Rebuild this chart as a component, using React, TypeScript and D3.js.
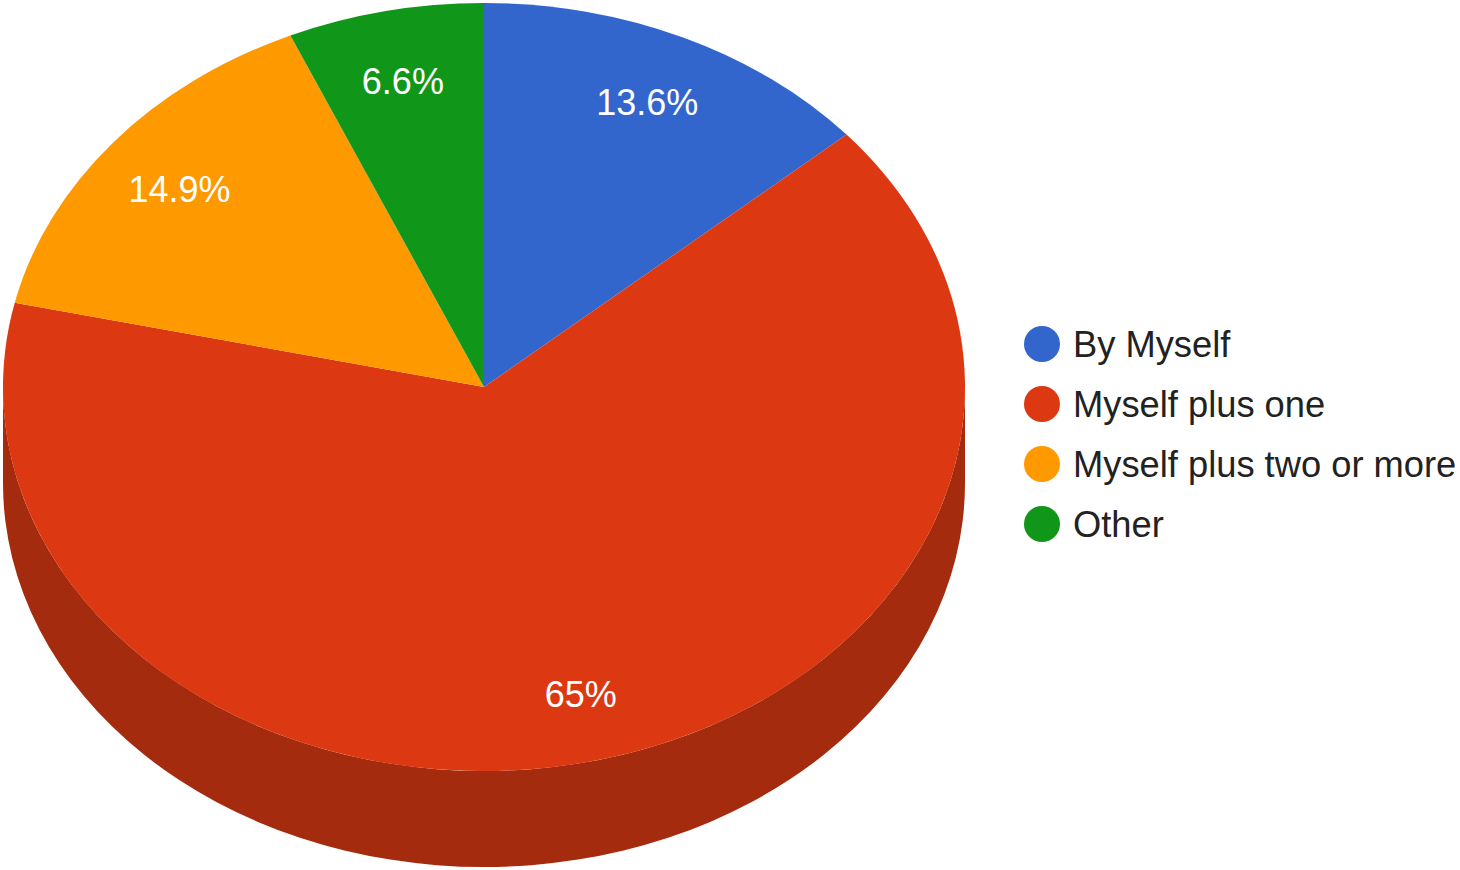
import React from "react";
import * as d3 from "d3";

const categories = ["By Myself", "Myself plus one", "Myself plus two or more", "Other"];
const values = [13.6, 65, 14.9, 6.6];
const labels = ["13.6%", "65%", "14.9%", "6.6%"];
const colors = ["#3366cc", "#dc3912", "#ff9900", "#109618"];
const sideColors = ["#264d99", "#a52b0e", "#bf7300", "#0c7112"];

const W = 1460;
const H = 870;
const cx = 484;
const cy = 387;
const rx = 481;
const ry = 384;
const depth = 96;
const labelFrac = 0.82;
const font = "'Liberation Sans', Arial, sans-serif";

const px = (a: number) => cx + rx * Math.sin(a);
const py = (a: number) => cy - ry * Math.cos(a);

function topPath(a1: number, a2: number) {
  const large = a2 - a1 > Math.PI ? 1 : 0;
  return `M${cx},${cy}L${px(a1)},${py(a1)}A${rx},${ry} 0 ${large} 1 ${px(a2)},${py(a2)}Z`;
}

function sidePath(a1: number, a2: number) {
  const s = Math.max(a1, Math.PI / 2);
  const e = Math.min(a2, (3 * Math.PI) / 2);
  if (e <= s) return null;
  const large = e - s > Math.PI ? 1 : 0;
  return (
    `M${px(s)},${py(s)}A${rx},${ry} 0 ${large} 1 ${px(e)},${py(e)}` +
    `L${px(e)},${py(e) + depth}A${rx},${ry} 0 ${large} 0 ${px(s)},${py(s) + depth}Z`
  );
}

export default function App() {
  const pie = d3.pie<number>().sort(null).value((d) => d);
  const arcs = pie(values);
  const legendY = d3.scaleLinear().domain([0, 1]).range([344, 404]);

  return (
    <svg
      width={W}
      height={H}
      style={{ position: "absolute", left: 0, top: 0, background: "#fff" }}
    >
      {arcs.map((a, i) => {
        const d = sidePath(a.startAngle, a.endAngle);
        return d ? <path key={"s" + i} d={d} fill={sideColors[i]} /> : null;
      })}
      {arcs.map((a, i) => (
        <path key={"t" + i} d={topPath(a.startAngle, a.endAngle)} fill={colors[i]} />
      ))}
      {arcs.map((a, i) => {
        const m = (a.startAngle + a.endAngle) / 2;
        return (
          <text
            key={"l" + i}
            x={cx + labelFrac * rx * Math.sin(m)}
            y={cy - labelFrac * ry * Math.cos(m)}
            dy="0.42em"
            textAnchor="middle"
            fill="#ffffff"
            fontFamily={font}
            fontSize={36}
          >
            {labels[i]}
          </text>
        );
      })}
      {categories.map((c, i) => (
        <g key={"g" + i}>
          <circle cx={1042} cy={legendY(i)} r={18} fill={colors[i]} />
          <text
            x={1073}
            y={legendY(i)}
            dy="0.35em"
            fill="#222222"
            fontFamily={font}
            fontSize={36.3}
          >
            {c}
          </text>
        </g>
      ))}
    </svg>
  );
}
